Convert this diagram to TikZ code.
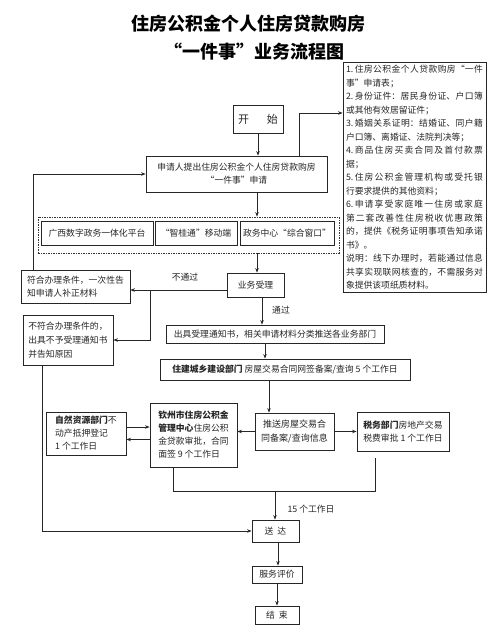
\documentclass[tikz,border=0pt]{standalone}
\usepackage{fontspec}
\setmainfont{Noto Sans CJK SC}
\usetikzlibrary{arrows.meta}
\XeTeXlinebreaklocale "zh"
\XeTeXlinebreakskip=0pt plus 1.5pt
\begin{document}
\begin{tikzpicture}[x=1pt,y=-1pt,
  box/.style={draw=black!85,line width=0.8pt,inner sep=2pt,font=\fontsize{8.8}{13}\selectfont,text=black!85},
  arr/.style={draw=black!85,line width=0.8pt,-{Stealth[length=4.5pt,width=3.5pt]}},
  ln/.style={draw=black!85,line width=0.8pt},
  lbl/.style={font=\fontsize{8.8}{11}\selectfont,text=black!85,inner sep=0pt},
  ttl/.style={font=\fontsize{18}{20}\selectfont\bfseries,inner sep=0pt}]
\useasboundingbox (0,0) rectangle (500,638);
\fill[white] (0,0) rectangle (500,638);
% title
\node[ttl] (t1) at (248,24) {住房公积金个人住房贷款购房};
\node[ttl] (t2) at (254,52) {“一件事”业务流程图};
% boxes
\node[box,minimum width=50pt,minimum height=28pt,font=\fontsize{11}{13}\selectfont] (start) at (258,119) {开\hspace{1.6em}始};
\node[box,minimum width=181pt,minimum height=36pt,align=center] (app) at (236.5,174) {申请人提出住房公积金个人住房贷款购房\\“一件事”申请};
\node[box,minimum width=143pt,minimum height=225pt,text width=137pt,align=justify,inner sep=3pt,font=\fontsize{8.8}{13.5}\selectfont] (note) at (414.5,177.5) {%
1.\,住房公积金个人贷款购房“一件\linebreak 事”申请表；\par
2.\,身份证件：居民身份证、户口簿\linebreak 或其他有效居留证件；\par
3.\,婚姻关系证明：结婚证、同户籍\linebreak 户口簿、离婚证、法院判决等；\par
4.\,商品住房买卖合同及首付款票\linebreak 据；\par
5.\,住房公积金管理机构或受托银\linebreak 行要求提供的其他资料；\par
6.\,申请享受家庭唯一住房或家庭\linebreak 第二套改善性住房税收优惠政策\linebreak 的，提供《税务证明事项告知承诺\linebreak 书》。\par
说明：线下办理时，若能通过信息\linebreak 共享实现联网核查的，不需服务对\linebreak 象提供该项纸质材料。};
\node[draw=black!80,line width=0.8pt,dash pattern=on 2pt off 1.2pt on 0.6pt off 1.2pt,minimum width=301pt,minimum height=36pt,inner sep=0pt] (plat) at (188.5,235) {};
\node[box,minimum width=112pt,minimum height=24pt] (p1) at (97,233) {广西数字政务一体化平台};
\node[box,minimum width=82pt,minimum height=24pt] (p2) at (196,233) {“智桂通”移动端};
\node[box,minimum width=94pt,minimum height=24pt] (p3) at (287,233) {政务中心“综合窗口”};
\node[box,minimum width=57pt,minimum height=24pt] (acc) at (255.5,285) {业务受理};
\node[box,minimum width=109pt,minimum height=33pt,align=left] (b1) at (75.5,286.5) {符合办理条件，一次性告\\知申请人补正材料};
\node[box,minimum width=90pt,minimum height=50pt,align=left,font=\fontsize{8.8}{14}\selectfont] (b2) at (68,340) {不符合办理条件的，\\出具不予受理通知书\\并告知原因};
\node[box,minimum width=218pt,minimum height=18pt] (notice) at (275,334) {出具受理通知书，相关申请材料分类推送各业务部门};
\node[box,minimum width=250pt,minimum height=21pt] (zj) at (285,369.5) {\textbf{住建城乡建设部门}\ 房屋交易合同网签备案/查询\ 5 个工作日};
\node[box,minimum width=79pt,minimum height=37pt,align=center,font=\fontsize{9}{14}\selectfont] (push) at (294.5,431.5) {推送房屋交易合\\同备案/查询信息};
\node[box,minimum width=87pt,minimum height=64pt,align=left] (qz) at (193.5,435) {\textbf{钦州市住房公积金}\\\textbf{管理中心}住房公积\\金贷款审批，合同\\面签 9 个工作日};
\node[box,minimum width=80pt,minimum height=43pt,align=left] (zr) at (86,433.5) {\textbf{自然资源部门}不\\动产抵押登记\\1 个工作日};
\node[box,minimum width=92pt,minimum height=39pt,align=left] (sw) at (403,431.5) {\textbf{税务部门}房地产交易\\税费审批 1 个工作日};
\node[box,minimum width=47pt,minimum height=22pt] (sd) at (275.5,531) {送\ \ 达};
\node[box,minimum width=50pt,minimum height=17pt] (pj) at (277,574.5) {服务评价};
\node[box,minimum width=44pt,minimum height=18pt] (end) at (277,615) {结\ \ 束};
% labels
\node[lbl] (l1) at (185,277) {不通过};
\node[lbl] (l2) at (281,310) {通过};
\node[lbl] (l3) at (311,509) {15 个工作日};
% connectors
\draw[arr] (start.south) -- (start.south |- app.north);
\draw[arr] ([xshift=62.5pt]app.north) |- ([yshift=64.5pt]note.west);
\draw[arr] ([xshift=20.5pt]app.south) -- ([xshift=20.5pt]app.south |- plat.north);
\draw[arr] ([xshift=1.5pt]acc.north |- plat.south) -- ([xshift=1.5pt]acc.north);
\draw[arr] ([yshift=-5pt]acc.west) -- ([yshift=-5pt]acc.west -| b1.east);
\coordinate (br) at (150,290);
\draw[arr] (br) |- (b2.east);
\draw[arr] ([xshift=-42.5pt]b1.north) |- (app.west);
\draw[arr] ([xshift=6.5pt]acc.south) -- ([xshift=6.5pt]acc.south |- notice.north);
\draw[arr] ([xshift=-10pt]notice.south) -- ([xshift=-10pt]notice.south |- zj.north);
\draw[arr] ([xshift=-16pt]zj.south) -- ([xshift=-16pt]zj.south |- push.north);
\draw[arr] (push.west) -- (push.west -| qz.east);
\draw[arr] (push.east) -- (push.east -| sw.west);
\draw[arr] ([yshift=6.5pt]zr.east) -- ([yshift=6.5pt]zr.east -| qz.west);
\draw[arr] ([yshift=-4.5pt]qz.west) -- ([yshift=-4.5pt]qz.west -| zr.east);
\coordinate (brk) at (275,491);
\draw[ln] ([xshift=-20.5pt]qz.south) |- ([xshift=-28pt]sw.south |- brk) -- ([xshift=-28pt,yshift=-7pt]sw.south);
\draw[arr] (brk) -- (brk |- sd.north);
\draw[arr] ([xshift=-26pt]b2.south) |- (sd.west);
\draw[arr] ([xshift=2.5pt]sd.south) -- ([xshift=2.5pt]sd.south |- pj.north);
\draw[arr] (pj.south) -- (end.north);
\end{tikzpicture}
\end{document}
